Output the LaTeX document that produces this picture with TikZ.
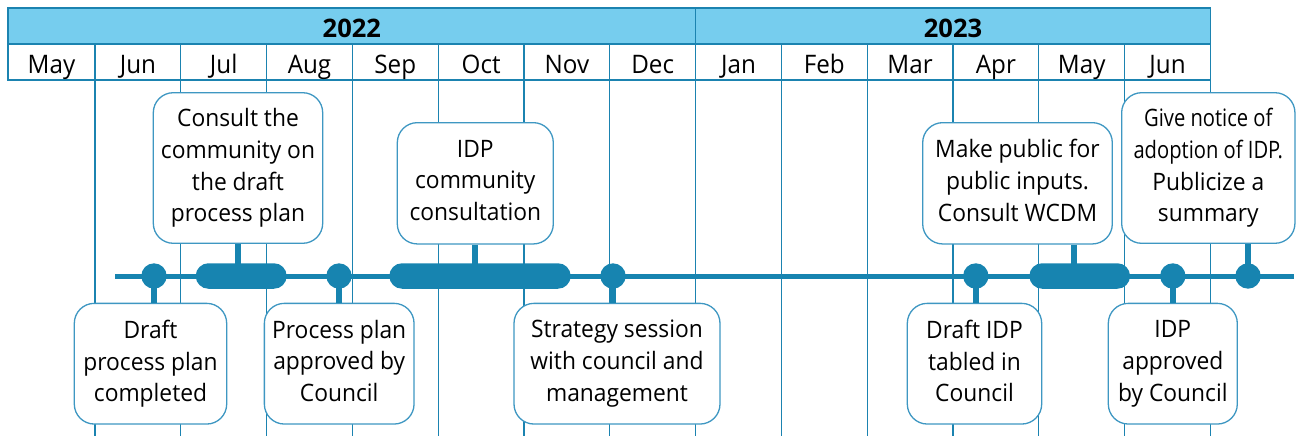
\documentclass[tikz,border=0pt]{standalone}
\usepackage{fontspec}
\setmainfont{Open Sans}[FakeStretch=0.95]
\newfontfamily\narrowfont{Open Sans}[FakeStretch=0.84]
\newfontfamily\yearfont{Open Sans}
\usetikzlibrary{shapes.misc}
\definecolor{headerblue}{HTML}{76CDEE}
\definecolor{gridblue}{HTML}{1B83B0}
\definecolor{axisblue}{HTML}{1784B0}
\definecolor{boxblue}{HTML}{3E97C2}
% keeps a descender's depth on a last line without one
\newcommand{\dpfix}{\vphantom{gy}}
\begin{document}
\begin{tikzpicture}[x=1pt,y=-1pt,
  gridline/.style={draw=gridblue,line width=1.3pt},
  axisline/.style={draw=axisblue,line width=5pt},
  stemline/.style={draw=axisblue,line width=6pt},
  barnode/.style={rounded rectangle,fill=axisblue,inner sep=0pt,minimum height=25.5pt},
  dotnode/.style={circle,fill=axisblue,inner sep=0pt,minimum size=25.4pt},
  callout/.style={draw=boxblue,line width=1.3pt,fill=white,rounded corners=20pt,
    align=center,inner sep=0pt,font=\fontsize{24}{31.7}\selectfont},
  lowbox/.style={callout,minimum height=120.7pt},
  monthlabel/.style={anchor=base,inner sep=0pt,font=\fontsize{25.5}{28}\selectfont},
  yearlabel/.style={anchor=base,inner sep=0pt,font=\yearfont\fontsize{25.5}{28}\selectfont\bfseries}]
\useasboundingbox (0,0) rectangle (1304,436);

% year band
\draw[gridline,fill=headerblue] (8,8) rectangle (695.6,44);
\draw[gridline,fill=headerblue] (695.6,8) rectangle (1210.4,44);
\node[yearlabel] (y2022) at (351.8,37.3) {2022};
\node[yearlabel] (y2023) at (953,37.3) {2023};

% month row
\foreach \l/\r/\m [count=\i] in {8/95/May,95/180.8/Jun,180.8/266.6/Jul,266.6/352.4/Aug,
    352.4/438.2/Sep,438.2/524/Oct,524/609.8/Nov,609.8/695.6/Dec,695.6/781.4/Jan,
    781.4/867.2/Feb,867.2/953/Mar,953/1038.8/Apr,1038.8/1124.6/May,1124.6/1210.4/Jun}{
  \draw[gridline] (\l,44) rectangle (\r,80);
  \node[monthlabel] (m\i) at ({(\l+\r)/2},74) {\m};
}

% time axis
\coordinate (ax0) at (115,276);
\coordinate (ax1) at (1294,276);
\draw[axisline] (ax0) -- (ax1);

% month dividers
\foreach \x in {95,180.8,266.6,352.4,438.2,524,609.8,695.6,781.4,867.2,953,1038.8,1124.6,1210.4}
  \draw[gridline] (\x,80) -- (\x,436);

% periods and milestones
\node[barnode,minimum width=91pt] (p1) at (241.2,276) {};
\node[barnode,minimum width=181.4pt] (p2) at (480,276) {};
\node[barnode,minimum width=100.7pt] (p3) at (1079.7,276) {};
\node[dotnode] (d1) at (154,276) {};
\node[dotnode] (d2) at (339,276) {};
\node[dotnode] (d3) at (613,276) {};
\node[dotnode] (d4) at (975.8,276) {};
\node[dotnode] (d5) at (1172.8,276) {};
\node[dotnode] (d6) at (1248,276) {};

% callouts
\node[callout,minimum width=169.4pt,minimum height=150.6pt] (cA) at (238,168)
  {Consult the\\community on\\the draft\\process plan};
\node[lowbox,minimum width=152.4pt] (cB) at (150.5,363.7)
  {Draft\\process plan\\completed};
\node[lowbox,minimum width=149.7pt] (cC) at (339.2,363.7)
  {Process plan\\approved by\\Council\dpfix};
\node[callout,minimum width=156pt,minimum height=121.3pt] (cD) at (475.3,183.3)
  {IDP\\community\\consultation\dpfix};
\node[lowbox,minimum width=206pt] (cE) at (617,363.7)
  {Strategy session\\with council and\\management};
\node[callout,minimum width=189.6pt,minimum height=121.3pt] (cF) at (1017.5,183.3)
  {Make public for\\public inputs.\\Consult WCDM\dpfix};
\node[callout,minimum width=173.3pt,minimum height=150.6pt] (cG) at (1208.3,168)
  {{\narrowfont Give notice of}\\{\narrowfont adoption of IDP.}\\Publicize a\\summary};
\node[lowbox,minimum width=134.4pt] (cH) at (974.5,363.7)
  {Draft IDP\\tabled in\\Council\dpfix};
\node[lowbox,minimum width=129pt] (cI) at (1172.8,363.7)
  {IDP\\approved\\by Council};

% stems joining milestones and periods to their callouts
\coordinate (p3s) at ([xshift=-5.7pt]p3.center);
\draw[stemline] (d1.center) -- (d1.center |- cB.north);
\draw[stemline] (cA.south) -- (cA.south |- p1.center);
\draw[stemline] (d2.center) -- (d2.center |- cC.north);
\draw[stemline] (cD.south) -- (cD.south |- p2.center);
\draw[stemline] (d3.center) -- (d3.center |- cE.north);
\draw[stemline] (d4.center) -- (d4.center |- cH.north);
\draw[stemline] (p3s |- cF.south) -- (p3s);
\draw[stemline] (d5.center) -- (d5.center |- cI.north);
\draw[stemline] (cG.south -| d6.center) -- (d6.center);
\end{tikzpicture}
\end{document}
